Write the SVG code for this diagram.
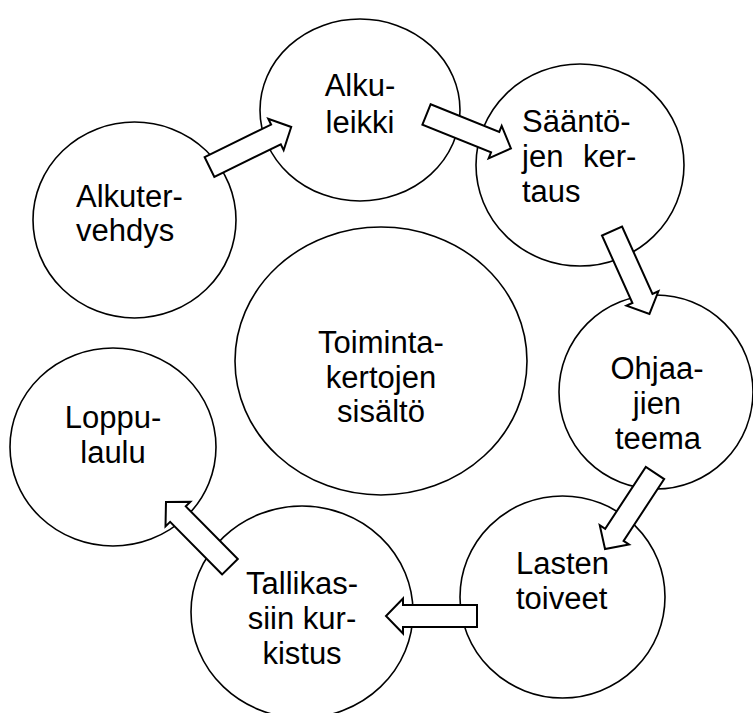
<svg xmlns="http://www.w3.org/2000/svg" width="753" height="713" viewBox="0 0 753 713">
<style>
.node ellipse{fill:#fff;stroke:#000;stroke-width:1.6}
.node text{font-family:"Liberation Sans",Arial,sans-serif;font-size:31px;fill:#000}
.arrow{fill:#fff;stroke:#000;stroke-width:2;stroke-linejoin:miter}
</style>
<defs>
<path id="blk" d="M0,-11 H74 V-17.5 L91,0 L74,17.5 V11 H0 Z"/>
</defs>
<rect width="753" height="713" fill="#fff"/>
<g id="n-alkuleikki" class="node">
<ellipse cx="360" cy="110" rx="100" ry="91"/>
<text x="360" y="96" text-anchor="middle">Alku-</text>
<text x="360" y="132.5" text-anchor="middle">leikki</text>
</g>
<g id="n-saannot" class="node">
<ellipse cx="580" cy="165" rx="104" ry="101"/>
<text x="522" y="131.7">Sääntö-</text>
<text x="522" y="166.7" word-spacing="11">jen ker-</text>
<text x="522" y="201.7">taus</text>
</g>
<g id="n-alkutervehdys" class="node">
<ellipse cx="134.5" cy="220" rx="101.5" ry="98"/>
<text x="76" y="206.7">Alkuter-</text>
<text x="76" y="240.7">vehdys</text>
</g>
<g id="n-sisalto" class="node">
<ellipse cx="381" cy="361" rx="146" ry="134"/>
<text x="381" y="353.3" text-anchor="middle">Toiminta-</text>
<text x="381" y="388.3" text-anchor="middle">kertojen</text>
<text x="381" y="422" text-anchor="middle">sisältö</text>
</g>
<g id="n-ohjaajien" class="node">
<ellipse cx="656" cy="392" rx="97" ry="97"/>
<text x="657" y="379" text-anchor="middle">Ohjaa-</text>
<text x="657" y="414" text-anchor="middle">jien</text>
<text x="658" y="449" text-anchor="middle">teema</text>
</g>
<g id="n-loppulaulu" class="node">
<ellipse cx="113" cy="447" rx="103" ry="99"/>
<text x="113" y="428" text-anchor="middle">Loppu-</text>
<text x="113" y="463" text-anchor="middle">laulu</text>
</g>
<g id="n-lasten" class="node">
<ellipse cx="562.5" cy="597" rx="102.5" ry="101"/>
<text x="516" y="573.6">Lasten</text>
<text x="516" y="609">toiveet</text>
</g>
<g id="n-tallikassiin" class="node">
<ellipse cx="302" cy="612" rx="111" ry="106"/>
<text x="302" y="593.5" text-anchor="middle">Tallikas-</text>
<text x="302" y="628.5" text-anchor="middle">siin kur-</text>
<text x="302" y="663.5" text-anchor="middle">kistus</text>
</g>
<g id="connectors">
<use href="#blk" class="arrow" transform="translate(209.5,167) rotate(-26.1)"/>
<use href="#blk" class="arrow" transform="translate(426.5,114.5) rotate(21.9)"/>
<use href="#blk" class="arrow" transform="translate(612,231) rotate(65.7)"/>
<use href="#blk" class="arrow" transform="translate(655,473) rotate(123.3)"/>
<use href="#blk" class="arrow" transform="translate(477,616) rotate(180)"/>
<use href="#blk" class="arrow" transform="translate(230,566.7) rotate(-134.7)"/>
</g>
</svg>
